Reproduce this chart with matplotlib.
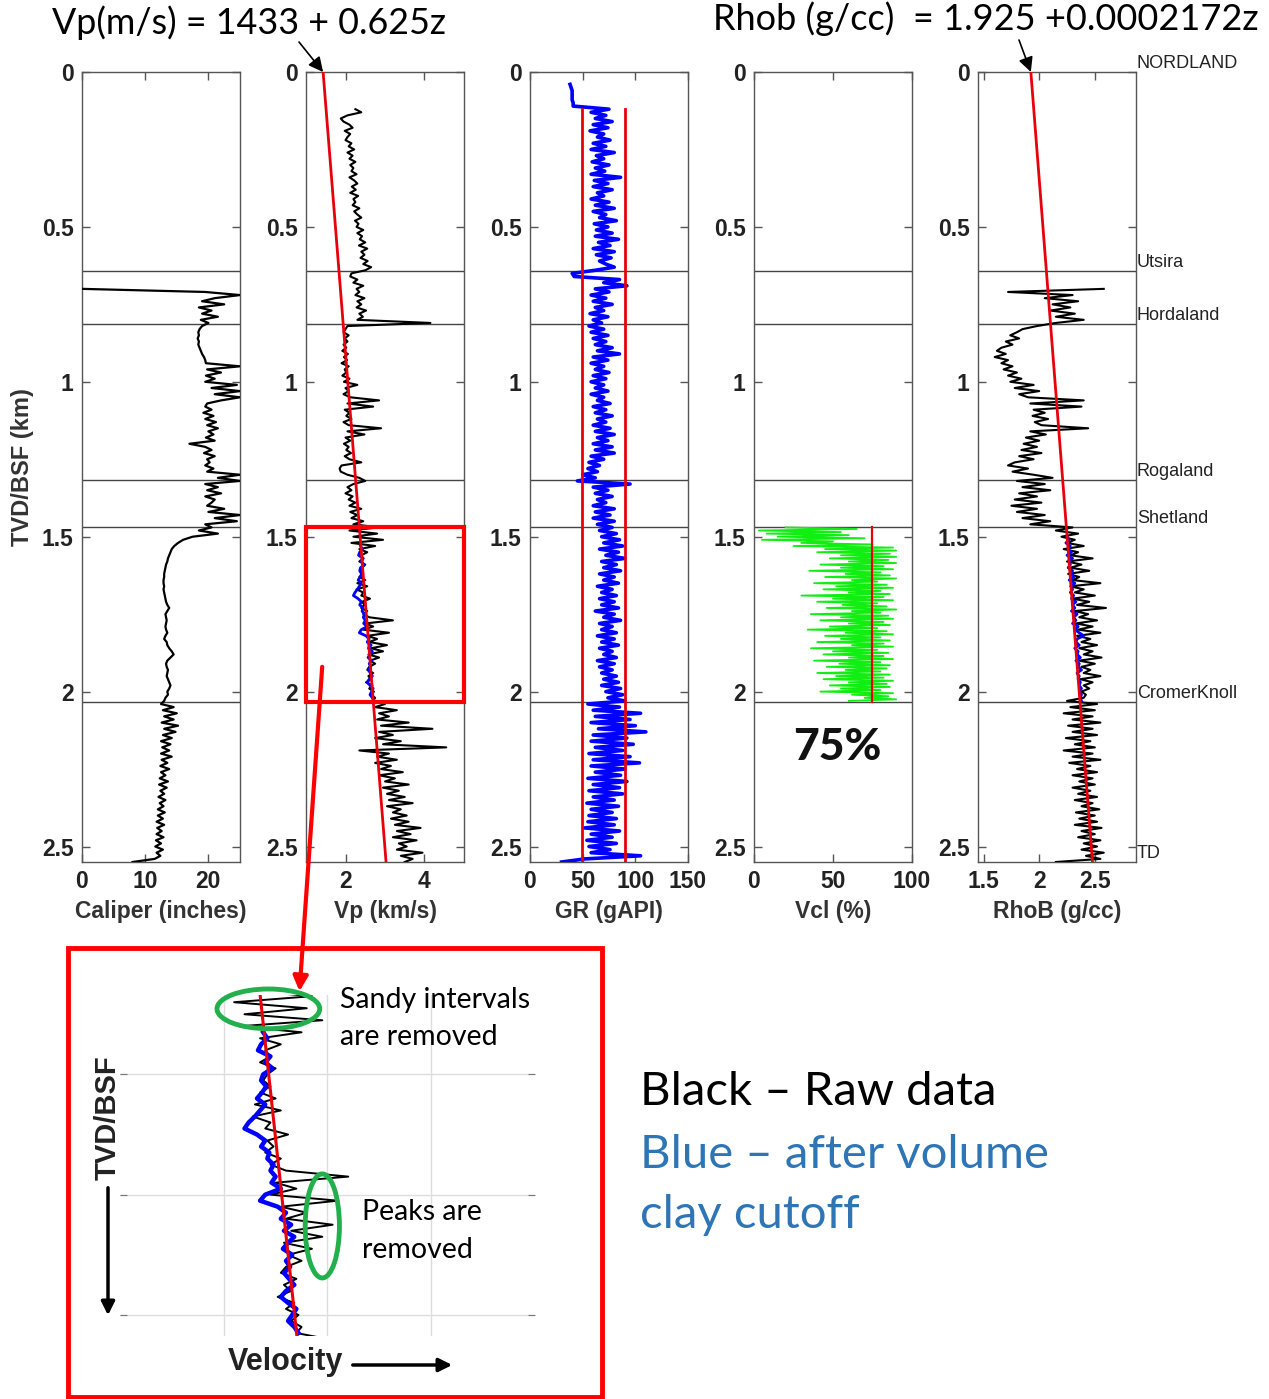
import numpy as np
import matplotlib
matplotlib.use("Agg")
import matplotlib.pyplot as plt
from matplotlib.patches import Rectangle, Ellipse, FancyArrowPatch, ConnectionPatch
import matplotlib.transforms as mtransforms

# ------------------------------------------------------------------ data
STEP = 0.01          # log sampling interval (km)
Z_BOTTOM = 2.55      # TD (km)

# formation tops (km)
tops_names = ["NORDLAND", "Utsira", "Hordaland", "Rogaland", "Shetland", "CromerKnoll", "TD"]
tops_depth = [0.0, 0.642, 0.813, 1.316, 1.468, 2.032, 2.55]

# trend equations
VP_A, VP_B = 1433.0, 0.625          # Vp(m/s) = 1433 + 0.625 z(m)
RHO_A, RHO_B = 1.925, 0.0002172     # Rhob(g/cc) = 1.925 + 0.0002172 z(m)
GR_CUTS = [49, 90]                  # gAPI
GR_CUT_TOP = 0.12
VCL_CUT = 75                        # %

# Caliper (inches) from 0.70 km
cal_top = 0.70
cal_vals = [
    0.0, 19.5, 25.0, 21.0, 19.0, 22.5, 18.5, 20.5, 19.0, 21.5,
    18.8, 20.0, 19.0, 18.6, 18.4, 18.5, 18.3, 18.5, 18.4, 18.6,
    18.8, 19.0, 19.3, 19.5, 19.6, 25.0, 19.8, 22.0, 19.6, 21.0,
    19.5, 24.5, 20.5, 25.0, 21.0, 25.0, 22.0, 19.8, 19.5, 20.5,
    19.2, 20.8, 19.5, 21.2, 19.8, 21.5, 20.0, 20.8, 19.6, 21.0,
    17.0, 19.5, 20.5, 19.3, 21.0, 19.8, 20.2, 19.5, 20.8, 19.8,
    25.0, 21.5, 25.0, 19.5, 21.5, 19.8, 22.0, 19.5, 21.0, 20.5,
    19.8, 22.5, 20.0, 25.0, 21.0, 24.5, 19.5, 20.5, 18.5, 21.5,
    17.5, 16.0, 15.2, 14.6, 14.2, 14.0, 13.8, 13.6, 13.5, 13.3,
    13.2, 13.1, 13.0, 13.0, 12.9, 12.9, 13.0, 12.9, 13.0, 13.1,
    13.2, 13.3, 13.5, 13.8, 13.5, 13.2, 13.3, 13.4, 13.3, 13.2,
    13.3, 13.5, 13.2, 13.0, 13.4, 13.5, 13.8, 14.2, 14.5, 14.0,
    13.5, 13.3, 13.4, 13.6, 13.5, 13.4, 13.6, 13.8, 14.0, 13.8,
    13.5, 13.6, 13.2, 13.0, 12.5, 14.5, 12.8, 15.0, 13.0, 14.5,
    12.6, 15.2, 13.0, 14.8, 12.8, 14.2, 12.5, 14.0, 12.7, 13.8,
    12.5, 14.2, 12.6, 13.5, 12.4, 13.8, 12.5, 13.2, 12.3, 13.6,
    12.2, 13.4, 12.4, 13.0, 12.1, 13.2, 12.3, 12.9, 12.0, 13.1,
    12.0, 12.8, 11.8, 13.0, 11.9, 12.6, 11.8, 12.9, 11.7, 12.5,
    11.6, 12.8, 11.8, 12.4, 11.5, 8.0,
]

# Vp raw (km/s) from 0.12 km
vp_top = 0.12
vp_vals = [
    2.25, 2.40, 2.05, 1.88, 1.95, 2.10, 2.18, 1.98, 2.12, 2.05,
    2.00, 2.15, 2.08, 2.22, 2.05, 2.18, 2.10, 2.25, 2.12, 2.20,
    2.15, 2.28, 2.10, 2.22, 2.30, 2.16, 2.26, 2.12, 2.32, 2.20,
    2.25, 2.18, 2.35, 2.22, 2.30, 2.40, 2.24, 2.33, 2.28, 2.45,
    2.30, 2.42, 2.36, 2.50, 2.34, 2.55, 2.40, 2.48, 2.38, 2.56,
    2.45, 2.65, 2.50, 2.15, 2.12, 2.30, 2.20, 2.45, 2.28, 2.35,
    2.25, 2.48, 2.30, 2.40, 2.28, 2.52, 2.35, 2.44, 2.30, 4.15,
    2.05, 2.00, 1.95, 2.08, 1.98, 2.05, 1.95, 2.02, 1.92, 2.06,
    1.96, 2.04, 1.90, 2.08, 1.98, 2.02, 1.92, 2.10, 1.96, 2.30,
    2.00, 2.08, 1.95, 2.12, 2.85, 2.05, 2.70, 1.98, 2.10, 2.02,
    2.15, 1.95, 2.08, 2.90, 2.05, 2.48, 2.00, 2.12, 1.96, 2.08,
    2.02, 2.14, 1.98, 2.10, 2.40, 1.90, 1.85, 1.88, 2.05, 2.35,
    2.50, 2.20, 2.05, 2.15, 2.00, 2.18, 2.08, 2.25, 2.10, 2.40,
    2.12, 2.30, 2.15, 2.45, 2.20, 2.85, 2.10, 2.80, 2.20, 2.95,
    2.15, 2.75, 2.35, 2.55, 2.40, 2.45, 2.35, 2.50, 2.42, 2.38,
    2.45, 2.35, 2.50, 2.30, 2.55, 2.28, 2.45, 2.40, 2.62, 2.42,
    2.48, 2.40, 2.55, 2.45, 2.60, 3.20, 2.50, 2.70, 2.45, 3.10,
    2.55, 2.80, 2.60, 3.05, 2.65, 2.95, 2.58, 2.85, 2.62, 2.75,
    2.60, 2.55, 2.70, 2.58, 2.65, 2.52, 2.68, 2.60, 2.72, 2.65,
    2.75, 2.70, 3.00, 2.75, 3.30, 2.85, 3.10, 2.80, 3.60, 2.90,
    4.20, 2.85, 3.20, 2.75, 3.40, 2.95, 4.55, 2.35, 3.10, 2.80,
    3.30, 2.75, 3.15, 2.90, 3.45, 2.85, 3.25, 3.00, 3.60, 2.95,
    3.35, 3.05, 3.50, 3.10, 3.70, 3.05, 3.40, 3.20, 3.55, 3.15,
    3.60, 3.25, 3.90, 3.30, 3.65, 3.20, 3.80, 3.35, 3.55, 3.30,
    3.95, 3.40, 3.70, 3.50,
]

# Vp after Vcl cutoff (km/s) from 1.53 km
vpc_top = 1.53
vpc_vals = [
    2.38, 2.42, 2.36, 2.33, 2.45, 2.40, 2.47, 2.38, 2.36, 2.41,
    2.37, 2.32, 2.40, 2.35, 2.30, 2.24, 2.20, 2.32, 2.40, 2.36,
    2.44, 2.42, 2.48, 2.45, 2.50, 2.46, 2.55, 2.40, 2.35, 2.52,
    2.60, 2.55, 2.65, 2.58, 2.68, 2.62, 2.57, 2.66, 2.60, 2.64,
    2.58, 2.63, 2.68, 2.60, 2.55, 2.62, 2.70, 2.66, 2.62, 2.68, 2.72,
]

# Gamma ray (gAPI) from 0.04 km
gr_top = 0.04
gr_vals = [
    38, 39, 40, 40, 40, 40, 41, 41,
    75, 58, 72, 62, 78, 60, 74, 57, 70, 64,
    76, 60, 72, 58, 80, 63, 70, 59, 75, 62,
    71, 58, 86, 61, 74, 60, 78, 64, 70, 58,
    75, 62, 80, 60, 72, 66, 82, 61, 74, 63,
    78, 62, 84, 65, 76, 60, 80, 63, 77, 66,
    72, 80, 62, 40, 42, 85, 70, 92, 62, 75,
    58, 72, 60, 78, 62, 70, 57, 74, 60, 68,
    56, 70, 58, 74, 60, 72, 62, 78, 64, 85,
    60, 74, 58, 70, 62, 75, 60, 72, 58, 70,
    62, 74, 58, 70, 64, 76, 60, 72, 62, 78,
    64, 72, 60, 76, 62, 80, 64, 74, 60, 78,
    62, 80, 58, 70, 56, 66, 55, 64, 50, 62,
    45, 95, 60, 74, 62, 78, 64, 72, 60, 80,
    62, 76, 60, 80, 64, 78, 66, 82, 68, 85,
    70, 88, 66, 84, 72, 90, 68, 82, 70, 86,
    66, 80, 70, 84, 64, 78, 68, 82, 66, 80,
    68, 84, 62, 80, 70, 86, 66, 78, 68, 82,
    64, 80, 68, 84, 66, 78, 70, 82, 64, 80,
    66, 78, 68, 82, 70, 84, 68, 86, 72, 88,
    74, 90, 55, 85, 60, 105, 62, 95, 58, 100,
    65, 110, 60, 92, 58, 98, 62, 88, 56, 95,
    60, 104, 58, 90, 62, 86, 55, 92, 60, 85,
    56, 88, 60, 80, 54, 84, 58, 78, 56, 82,
    55, 80, 52, 85, 58, 78, 54, 82, 56, 76,
    58, 105, 52, 30,
]

# Volume of clay (%) from 1.47 km, sampled every 0.005 km
vcl_top, vcl_step = 1.47, 0.005
vcl_vals = [
    20, 65, 3, 55, 8, 60, 15, 70, 5, 50,
    30, 75, 25, 88, 45, 90, 40, 86, 55, 90,
    48, 85, 60, 90, 42, 82, 55, 88, 35, 80,
    58, 86, 45, 90, 62, 78, 38, 84, 52, 88,
    44, 80, 60, 86, 30, 82, 50, 88, 40, 78,
    56, 84, 46, 90, 62, 80, 36, 85, 55, 88,
    42, 82, 60, 86, 48, 78, 34, 84, 58, 88,
    45, 80, 55, 86, 40, 82, 62, 88, 36, 78,
    50, 85, 44, 82, 60, 88, 38, 80, 54, 86,
    46, 84, 58, 80, 40, 86, 52, 82, 44, 88,
    60, 84, 48, 86, 55, 80, 42, 88, 62, 85,
    70, 90, 60,
]

# Bulk density raw (g/cc) from 0.70 km
rho_top = 0.70
rho_vals = [
    2.58, 1.72, 2.30, 2.05, 2.35, 2.12, 2.28, 2.10, 2.32, 2.15,
    2.40, 2.15, 1.98, 1.85, 1.80, 1.74, 1.82, 1.70, 1.76, 1.66,
    1.62, 1.70, 1.60, 1.72, 1.66, 1.76, 1.68, 1.80, 1.72, 1.84,
    1.74, 1.95, 1.78, 2.00, 1.82, 1.90, 2.40, 1.92, 2.38, 1.95,
    2.05, 1.94, 2.08, 1.96, 2.02, 2.44, 1.92, 2.06, 1.88, 2.00,
    1.86, 1.98, 1.84, 2.02, 1.82, 1.95, 1.78, 1.72, 1.90, 1.76,
    1.95, 2.12, 1.80, 2.05, 1.85, 2.10, 1.82, 1.98, 1.78, 2.02,
    1.75, 1.98, 1.80, 2.05, 1.85, 2.10, 1.92, 2.30, 2.15, 2.35,
    2.20, 2.32, 2.25, 2.40, 2.22, 2.35, 2.28, 2.48, 2.25, 2.38,
    2.28, 2.45, 2.26, 2.36, 2.30, 2.55, 2.28, 2.40, 2.32, 2.50,
    2.30, 2.45, 2.34, 2.60, 2.32, 2.44, 2.36, 2.52, 2.33, 2.48,
    2.35, 2.55, 2.34, 2.46, 2.38, 2.52, 2.36, 2.48, 2.40, 2.56,
    2.36, 2.50, 2.38, 2.46, 2.40, 2.55, 2.37, 2.48, 2.40, 2.45,
    2.38, 2.42, 2.40, 2.25, 2.52, 2.28, 2.50, 2.22, 2.48, 2.30,
    2.55, 2.26, 2.48, 2.30, 2.52, 2.24, 2.46, 2.32, 2.50, 2.22,
    2.48, 2.30, 2.55, 2.27, 2.46, 2.34, 2.52, 2.30, 2.48, 2.36,
    2.50, 2.30, 2.46, 2.35, 2.52, 2.32, 2.48, 2.38, 2.54, 2.33,
    2.50, 2.36, 2.52, 2.32, 2.56, 2.38, 2.50, 2.35, 2.55, 2.40,
    2.52, 2.38, 2.58, 2.42, 2.55, 2.15,
]

# Bulk density after cutoff (g/cc) from 1.50 km
rhoc_top = 1.50
rhoc_vals = [
    2.25, 2.27, 2.24, 2.28, 2.26, 2.29, 2.25, 2.30, 2.27, 2.28,
    2.26, 2.30, 2.28, 2.31, 2.27, 2.32, 2.29, 2.30, 2.28, 2.31,
    2.29, 2.33, 2.30, 2.32, 2.29, 2.34, 2.31, 2.33, 2.30, 2.35,
    2.32, 2.36, 2.40, 2.34, 2.33, 2.36, 2.32, 2.35, 2.34, 2.37,
    2.33, 2.36, 2.35, 2.38, 2.34, 2.36, 2.35, 2.37, 2.36, 2.38,
    2.36, 2.38, 2.37, 2.38,
]

# inset (zoom of Vp track)
INSET_TOP, INSET_BOT = 1.468, 2.035

# ------------------------------------------------------------------ helpers
def depth(top, vals, step=STEP):
    return np.round(top + step * np.arange(len(vals)), 4)

W, H = 1269, 1399
fig = plt.figure(figsize=(W / 100, H / 100), dpi=100)
fig.patch.set_facecolor("white")

def fx(x):
    return x / W

def fy(y):
    return 1 - y / H

AX_FONT = "Liberation Sans"
CAL_FONT = ["Lato", "DejaVu Sans"]
FRAME = "#555555"
RED = "#E8000B"
BLUE = "#0000FF"

tracks = [
    dict(xlim=(0, 25), xticks=[0, 10, 20], xl=["0", "10", "20"], label="Caliper (inches)"),
    dict(xlim=(1, 5), xticks=[2, 4], xl=["2", "4"], label="Vp (km/s)"),
    dict(xlim=(0, 150), xticks=[0, 50, 100, 150], xl=["0", "50", "100", "150"], label="GR (gAPI)"),
    dict(xlim=(0, 100), xticks=[0, 50, 100], xl=["0", "50", "100"], label="Vcl (%)"),
    dict(xlim=(1.45, 2.87), xticks=[1.5, 2, 2.5], xl=["1.5", "2", "2.5"], label="RhoB (g/cc)"),
]
lefts = [82, 306, 530, 754, 978]
yticks = [0, 0.5, 1, 1.5, 2, 2.5]
ytl = ["0", "0.5", "1", "1.5", "2", "2.5"]

axes = []
for left, tr in zip(lefts, tracks):
    ax = fig.add_axes([fx(left), fy(862), 158 / W, 790 / H])
    ax.set_xlim(*tr["xlim"])
    ax.set_ylim(Z_BOTTOM, 0)
    ax.set_xticks(tr["xticks"])
    ax.set_xticklabels(tr["xl"])
    ax.set_yticks(yticks)
    ax.set_yticklabels(ytl)
    ax.tick_params(direction="in", length=6, width=1, color=FRAME,
                   top=True, right=True, labelsize=16.5, pad=6, labelcolor="#222222")
    for lab in ax.get_xticklabels() + ax.get_yticklabels():
        lab.set_fontweight("bold")
        lab.set_family(AX_FONT)
    ax.set_xlabel(tr["label"], fontsize=16.5, fontweight="bold", family=AX_FONT,
                  color="#333333", labelpad=5)
    for sp in ax.spines.values():
        sp.set_color(FRAME)
        sp.set_linewidth(1.0)
    for z in tops_depth[1:-1]:
        ax.axhline(z, color="#444444", lw=1.0, zorder=1)
    axes.append(ax)

ax1, ax2, ax3, ax4, ax5 = axes
ax1.set_ylabel("TVD/BSF (km)", fontsize=17, fontweight="bold", family=AX_FONT,
               color="#333333", labelpad=6)

# Caliper
ax1.plot(cal_vals, depth(cal_top, cal_vals), color="black", lw=1.6, zorder=3)

# Vp
zline = np.array([0.0, Z_BOTTOM])
vp_line = (VP_A + VP_B * zline * 1000) / 1000
ax2.plot(vp_vals, depth(vp_top, vp_vals), color="black", lw=1.5, zorder=3)
ax2.plot(vpc_vals, depth(vpc_top, vpc_vals), color=BLUE, lw=2.0, zorder=4)
ax2.plot(vp_line, zline, color=RED, lw=2.0, zorder=5)
ax2.add_patch(Rectangle((tracks[1]["xlim"][0], INSET_TOP),
                        tracks[1]["xlim"][1] - tracks[1]["xlim"][0], INSET_BOT - INSET_TOP,
                        fill=False, ec="#FF0000", lw=3.0, zorder=6, clip_on=False))

# GR
ax3.plot(gr_vals, depth(gr_top, gr_vals), color=BLUE, lw=2.6, zorder=3)
for c in GR_CUTS:
    ax3.plot([c, c], [GR_CUT_TOP, Z_BOTTOM], color=RED, lw=2.0, zorder=4)

# Vcl
ax4.plot(vcl_vals, depth(vcl_top, vcl_vals, vcl_step), color="#11EE11", lw=1.3, zorder=3)
ax4.plot([VCL_CUT, VCL_CUT], [tops_depth[4], tops_depth[5]], color=RED, lw=1.6, zorder=4)
ax4.text(0.53, 2.18, "75%", transform=mtransforms.blended_transform_factory(ax4.transAxes, ax4.transData),
         ha="center", va="center", fontsize=32, fontweight="black", family=CAL_FONT, color="#111111")

# RhoB
rho_line = RHO_A + RHO_B * zline * 1000
ax5.plot(rho_vals, depth(rho_top, rho_vals), color="black", lw=1.5, zorder=3)
ax5.plot(rhoc_vals, depth(rhoc_top, rhoc_vals), color=BLUE, lw=2.0, zorder=4)
ax5.plot(rho_line, zline, color=RED, lw=2.0, zorder=5)

# formation labels
tr5 = mtransforms.blended_transform_factory(ax5.transAxes, ax5.transData)
for name, z in zip(tops_names, tops_depth):
    ax5.text(1.005, z, name, transform=tr5, ha="left", va="bottom", fontsize=13,
             family=AX_FONT, color="#222222", clip_on=False)

# equations and arrows
fig.text(fx(52), fy(23), "Vp(m/s) = 1433 + 0.625z", fontsize=25.8, family=CAL_FONT,
         ha="left", va="center", color="black")
fig.text(fx(713), fy(19), "Rhob (g/cc)  = 1.925 +0.0002172z", fontsize=26, family=CAL_FONT,
         ha="left", va="center", color="black")
ax2.annotate("", xy=(vp_line[0], 0), xycoords="data", xytext=(fx(299), fy(42)),
             textcoords="figure fraction",
             arrowprops=dict(arrowstyle="-|>", color="black", lw=1.2, mutation_scale=22,
                             shrinkA=0, shrinkB=0), annotation_clip=False)
ax5.annotate("", xy=(rho_line[0], 0), xycoords="data", xytext=(fx(1019), fy(40)),
             textcoords="figure fraction",
             arrowprops=dict(arrowstyle="-|>", color="black", lw=1.2, mutation_scale=22,
                             shrinkA=0, shrinkB=0), annotation_clip=False)

# ------------------------------------------------------------------ inset
axi = fig.add_axes([fx(120), fy(1336), 415 / W, 341 / H])
axi.set_xlim(*tracks[1]["xlim"])
axi.set_ylim(INSET_BOT, INSET_TOP)
axi.set_xticks([2, 3, 4])
axi.set_yticks([1.6, 1.8, 2.0])
axi.grid(True, color="#DDDDDD", lw=1.0)
axi.tick_params(direction="in", length=5, color="#777777", left=True, right=True,
                bottom=False, top=False, labelleft=False, labelbottom=False)
for sp in axi.spines.values():
    sp.set_visible(False)
zi = np.array([INSET_TOP, INSET_BOT])
vp_line_i = (VP_A + VP_B * zi * 1000) / 1000
axi.plot(vp_vals, depth(vp_top, vp_vals), color="black", lw=1.4, zorder=3)
axi.plot(vpc_vals, depth(vpc_top, vpc_vals), color=BLUE, lw=3.2, zorder=4)
axi.plot(vp_line_i, zi, color=RED, lw=2.2, zorder=5)
GREEN = "#22B04C"
axi.add_patch(Ellipse((2.43, 1.491), 0.99, 0.066, fill=False, ec=GREEN, lw=3.5,
                      zorder=6, clip_on=False))
axi.add_patch(Ellipse((2.95, 1.852), 0.33, 0.173, fill=False, ec=GREEN, lw=3.5,
                      zorder=6, clip_on=False))

fig.text(fx(340), fy(1000), "Sandy intervals", fontsize=20.5, family=CAL_FONT, ha="left", va="center")
fig.text(fx(340), fy(1037), "are removed", fontsize=20.5, family=CAL_FONT, ha="left", va="center")
fig.text(fx(362), fy(1212), "Peaks are", fontsize=20.5, family=CAL_FONT, ha="left", va="center")
fig.text(fx(362), fy(1250), "removed", fontsize=20.5, family=CAL_FONT, ha="left", va="center")

fig.text(fx(285), fy(1362), "Velocity", fontsize=22, fontweight="bold", family=AX_FONT,
         ha="center", va="center", color="#222222")
fig.add_artist(FancyArrowPatch((fx(350), fy(1365)), (fx(455), fy(1365)),
                               transform=fig.transFigure, arrowstyle="-|>",
                               mutation_scale=20, lw=2.5, color="black"))
fig.text(fx(108), fy(1118), "TVD/BSF", fontsize=21, fontweight="bold", family=AX_FONT,
         rotation=90, ha="center", va="center", color="#222222")
fig.add_artist(FancyArrowPatch((fx(108), fy(1185)), (fx(108), fy(1318)),
                               transform=fig.transFigure, arrowstyle="-|>",
                               mutation_scale=20, lw=2.5, color="black"))

# big red frame around inset
fig.add_artist(Rectangle((fx(68), fy(1397)), (602 - 68) / W, (1397 - 948) / H,
                         transform=fig.transFigure, fill=False, ec="#FF0000", lw=3.5))

# red arrow from box to inset
con = ConnectionPatch(xyA=(1.41, 1.92), coordsA=ax2.transData,
                      xyB=(2.73, 1.462), coordsB=axi.transData,
                      arrowstyle="-|>", color="#FF0000", lw=3.0, mutation_scale=22,
                      shrinkA=0, shrinkB=0)
fig.add_artist(con)

# legend text
fig.text(fx(640), fy(1092), "Black \u2013 Raw data", fontsize=34, family=CAL_FONT,
         ha="left", va="center", color="black")
fig.text(fx(640), fy(1155), "Blue \u2013 after volume", fontsize=34, family=CAL_FONT,
         ha="left", va="center", color="#2E75B6")
fig.text(fx(640), fy(1215), "clay cutoff", fontsize=34, family=CAL_FONT,
         ha="left", va="center", color="#2E75B6")

fig.savefig("out.png", dpi=100, facecolor="white")
